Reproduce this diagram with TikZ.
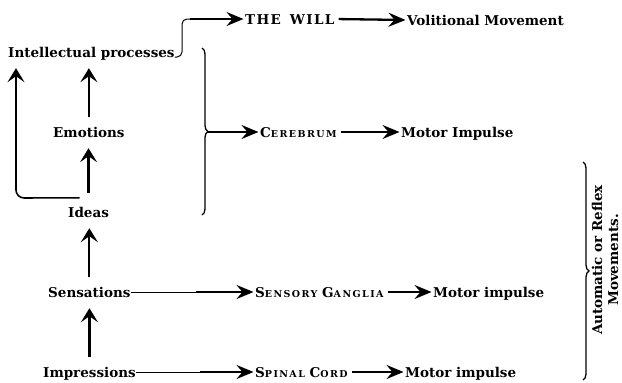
\documentclass[tikz,border=0pt]{standalone}
\usepackage{fontspec}
\setmainfont{DejaVu Serif}
\usetikzlibrary{arrows.meta,decorations.pathreplacing}
\newcommand\fsc[2]{#1{\fontsize{9.5}{10}\selectfont\addfontfeature{LetterSpace=15}#2}}
\tikzset{
	upstealth/.tip={Stealth[length=14pt,width=17pt,inset=6pt]},
	rstealth/.tip={Stealth[length=17pt,width=14pt,inset=6pt]}
}
\begin{document}
\begin{tikzpicture}[x=1pt,y=-1pt,
		txt/.style={font=\bfseries\fontsize{13.5}{16}\selectfont},
		lbl/.style={txt, inner sep=0pt, anchor=base west, text height=10pt, text depth=0pt},
		uparr/.style={line width=2.3pt, -upstealth, shorten <=9.5pt, shorten >=11pt},
		rarr/.style={line width=2.3pt, -rstealth, shorten <=4pt, shorten >=1.5pt},
		thinln/.style={line width=1pt},
		brc/.style={line width=1.3pt, decorate, decoration={brace,amplitude=6pt}}]
	\useasboundingbox (0,0) rectangle (622,383);
	\node [lbl] (intel) at (8,57) {Intellectual processes};
	\node [lbl] (emot) at (53,137) {Emotions};
	\node [lbl] (ideas) at (68,217) {Ideas};
	\node [lbl] (sens) at (48,297) {Sensations};
	\node [lbl] (impr) at (43,377) {Impressions};
	\node [lbl] (will) at (245,24) {\addfontfeature{LetterSpace=10}THE\hspace{9pt}WILL};
	\node [lbl] (volm) at (407,25) {Volitional Movement};
	\node [lbl] (cereb) at (260,137) {\fsc{C}{EREBRUM}};
	\node [lbl] (mimp) at (401,137) {Motor Impulse};
	\node [lbl] (sgang) at (255,297) {\fsc{S}{ENSORY} \fsc{G}{ANGLIA}};
	\node [lbl] (mimps) at (433,297) {Motor impulse};
	\node [lbl] (spin) at (255,377) {\fsc{S}{PINAL} \fsc{C}{ORD}};
	\node [lbl] (mimpc) at (405,377) {Motor impulse};
	\node [txt, rotate=90, align=center, inner sep=0pt] (autom) at (605,260) {Automatic or Reflex\\Movements.};
	\coordinate (wbend) at (190,19);
	\coordinate (cbr) at (207,132);
	\coordinate (sbrk) at (196,292);
	\coordinate (ibrk) at (200,372);
	\draw [uparr] (emot.north) -- (emot.north |- intel.south);
	\draw [uparr, shorten <=14pt] (ideas.north) -- (ideas.north |- emot.south);
	\draw [uparr] (sens.north) -- (sens.north |- ideas.south);
	\draw [uparr] (impr.north) -- (impr.north |- sens.south);
	\draw [line width=1.6pt, rounded corners=8pt, -upstealth, shorten >=11pt] ([xshift=-9pt,yshift=9pt]ideas.north) -- (16,198) -- ([xshift=8pt]intel.south west);
	\draw [thinln, rounded corners=5pt] (intel.base east) -- (182,57) -- (182,19) -- (wbend);
	\draw [rarr, shorten <=0pt] (wbend) -- (will.west);
	\draw [rarr] (will.east) -- (volm.west);
	\draw [brc] (202,48) -- (202,215);
	\draw [rarr, shorten <=0pt] (cbr) -- (cereb.west);
	\draw [rarr] (cereb.east) -- (mimp.west);
	\draw [thinln] (sens.east) -- (sbrk);
	\draw [rarr, shorten <=0pt] (sbrk) -- (sgang.west);
	\draw [rarr] (sgang.east) -- (mimps.west);
	\draw [thinln] (impr.east) -- (ibrk);
	\draw [rarr, shorten <=0pt] (ibrk) -- (spin.west);
	\draw [rarr] (spin.east) -- (mimpc.west);
	\draw [brc] (583,162) -- (583,380);
\end{tikzpicture}
\end{document}
